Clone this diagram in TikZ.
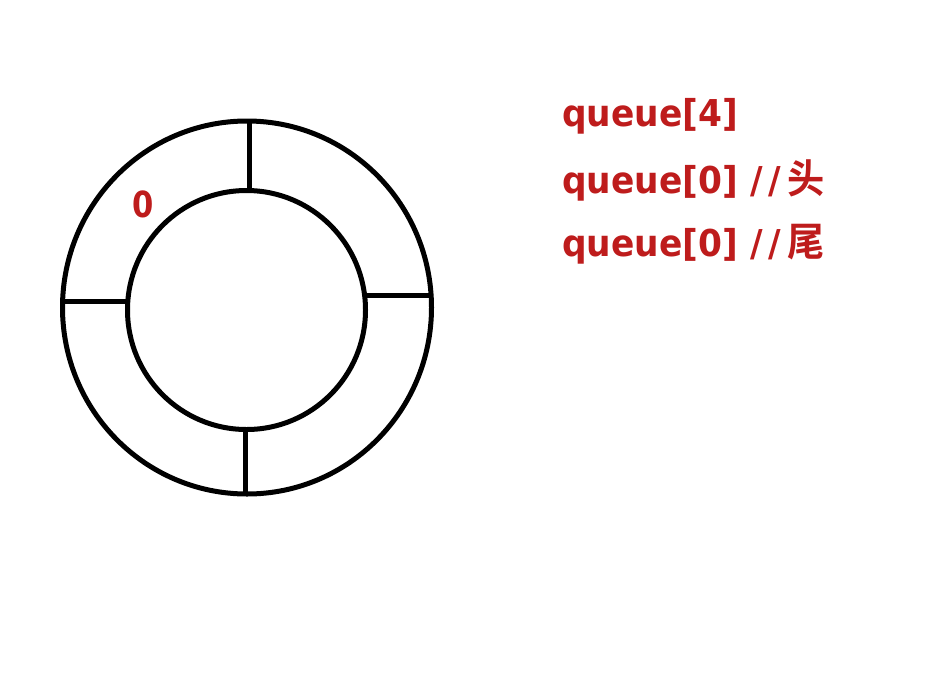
\documentclass[tikz,border=0pt]{standalone}
\usepackage{fontspec}
\usetikzlibrary{shapes.geometric}
\setmainfont{DejaVu Sans}
\newfontfamily\cjkfont{Noto Sans CJK SC}[BoldFont={* Bold}]
\definecolor{qred}{RGB}{190,28,28}
\tikzset{
  ring/.style={draw=black, line width=5pt, ellipse, inner sep=0pt},
  divider/.style={draw=black, line width=5pt},
  qlabel/.style={anchor=base west, inner sep=0pt, text=qred, xscale=0.93, font=\fontsize{37}{40}\selectfont\bfseries},
}
\newcommand{\cjk}[1]{{\cjkfont\bfseries\fontsize{40}{42}\selectfont #1}}
\newcommand{\slashes}{\kern1pt/\kern6pt/\kern6pt}
\begin{document}
\begin{tikzpicture}[x=1pt,y=-1pt]
\useasboundingbox[fill=white] (0,0) rectangle (947,686);
% rings
\node[ring, minimum width=369pt, minimum height=373pt] (outer) at (247,307.5) {};
\node[ring, minimum width=238pt, minimum height=239pt] (inner) at (246.5,310) {};
% dividers
\coordinate (tA) at (249,191); \coordinate (tB) at (249,122);
\coordinate (lA) at (127,301); \coordinate (lB) at (61,301);
\coordinate (rA) at (366,295); \coordinate (rB) at (432,295);
\coordinate (bA) at (245,429); \coordinate (bB) at (245,494);
\draw[divider] (tA) -- (tB);
\draw[divider] (lA) -- (lB);
\draw[divider] (rA) -- (rB);
\draw[divider] (bA) -- (bB);
% hand-written 0
\node[text=qred, inner sep=0pt, xscale=0.85, font=\fontsize{36}{38}\selectfont\bfseries] (zero) at (143,204) {0};
% labels
\node[qlabel] (l1) at (562,126) {queue[4]};
\node[qlabel] (l2) at (562,193) {queue[0] \slashes\cjk{头}};
\node[qlabel] (l3) at (562,256) {queue[0] \slashes\cjk{尾}};
\end{tikzpicture}
\end{document}
